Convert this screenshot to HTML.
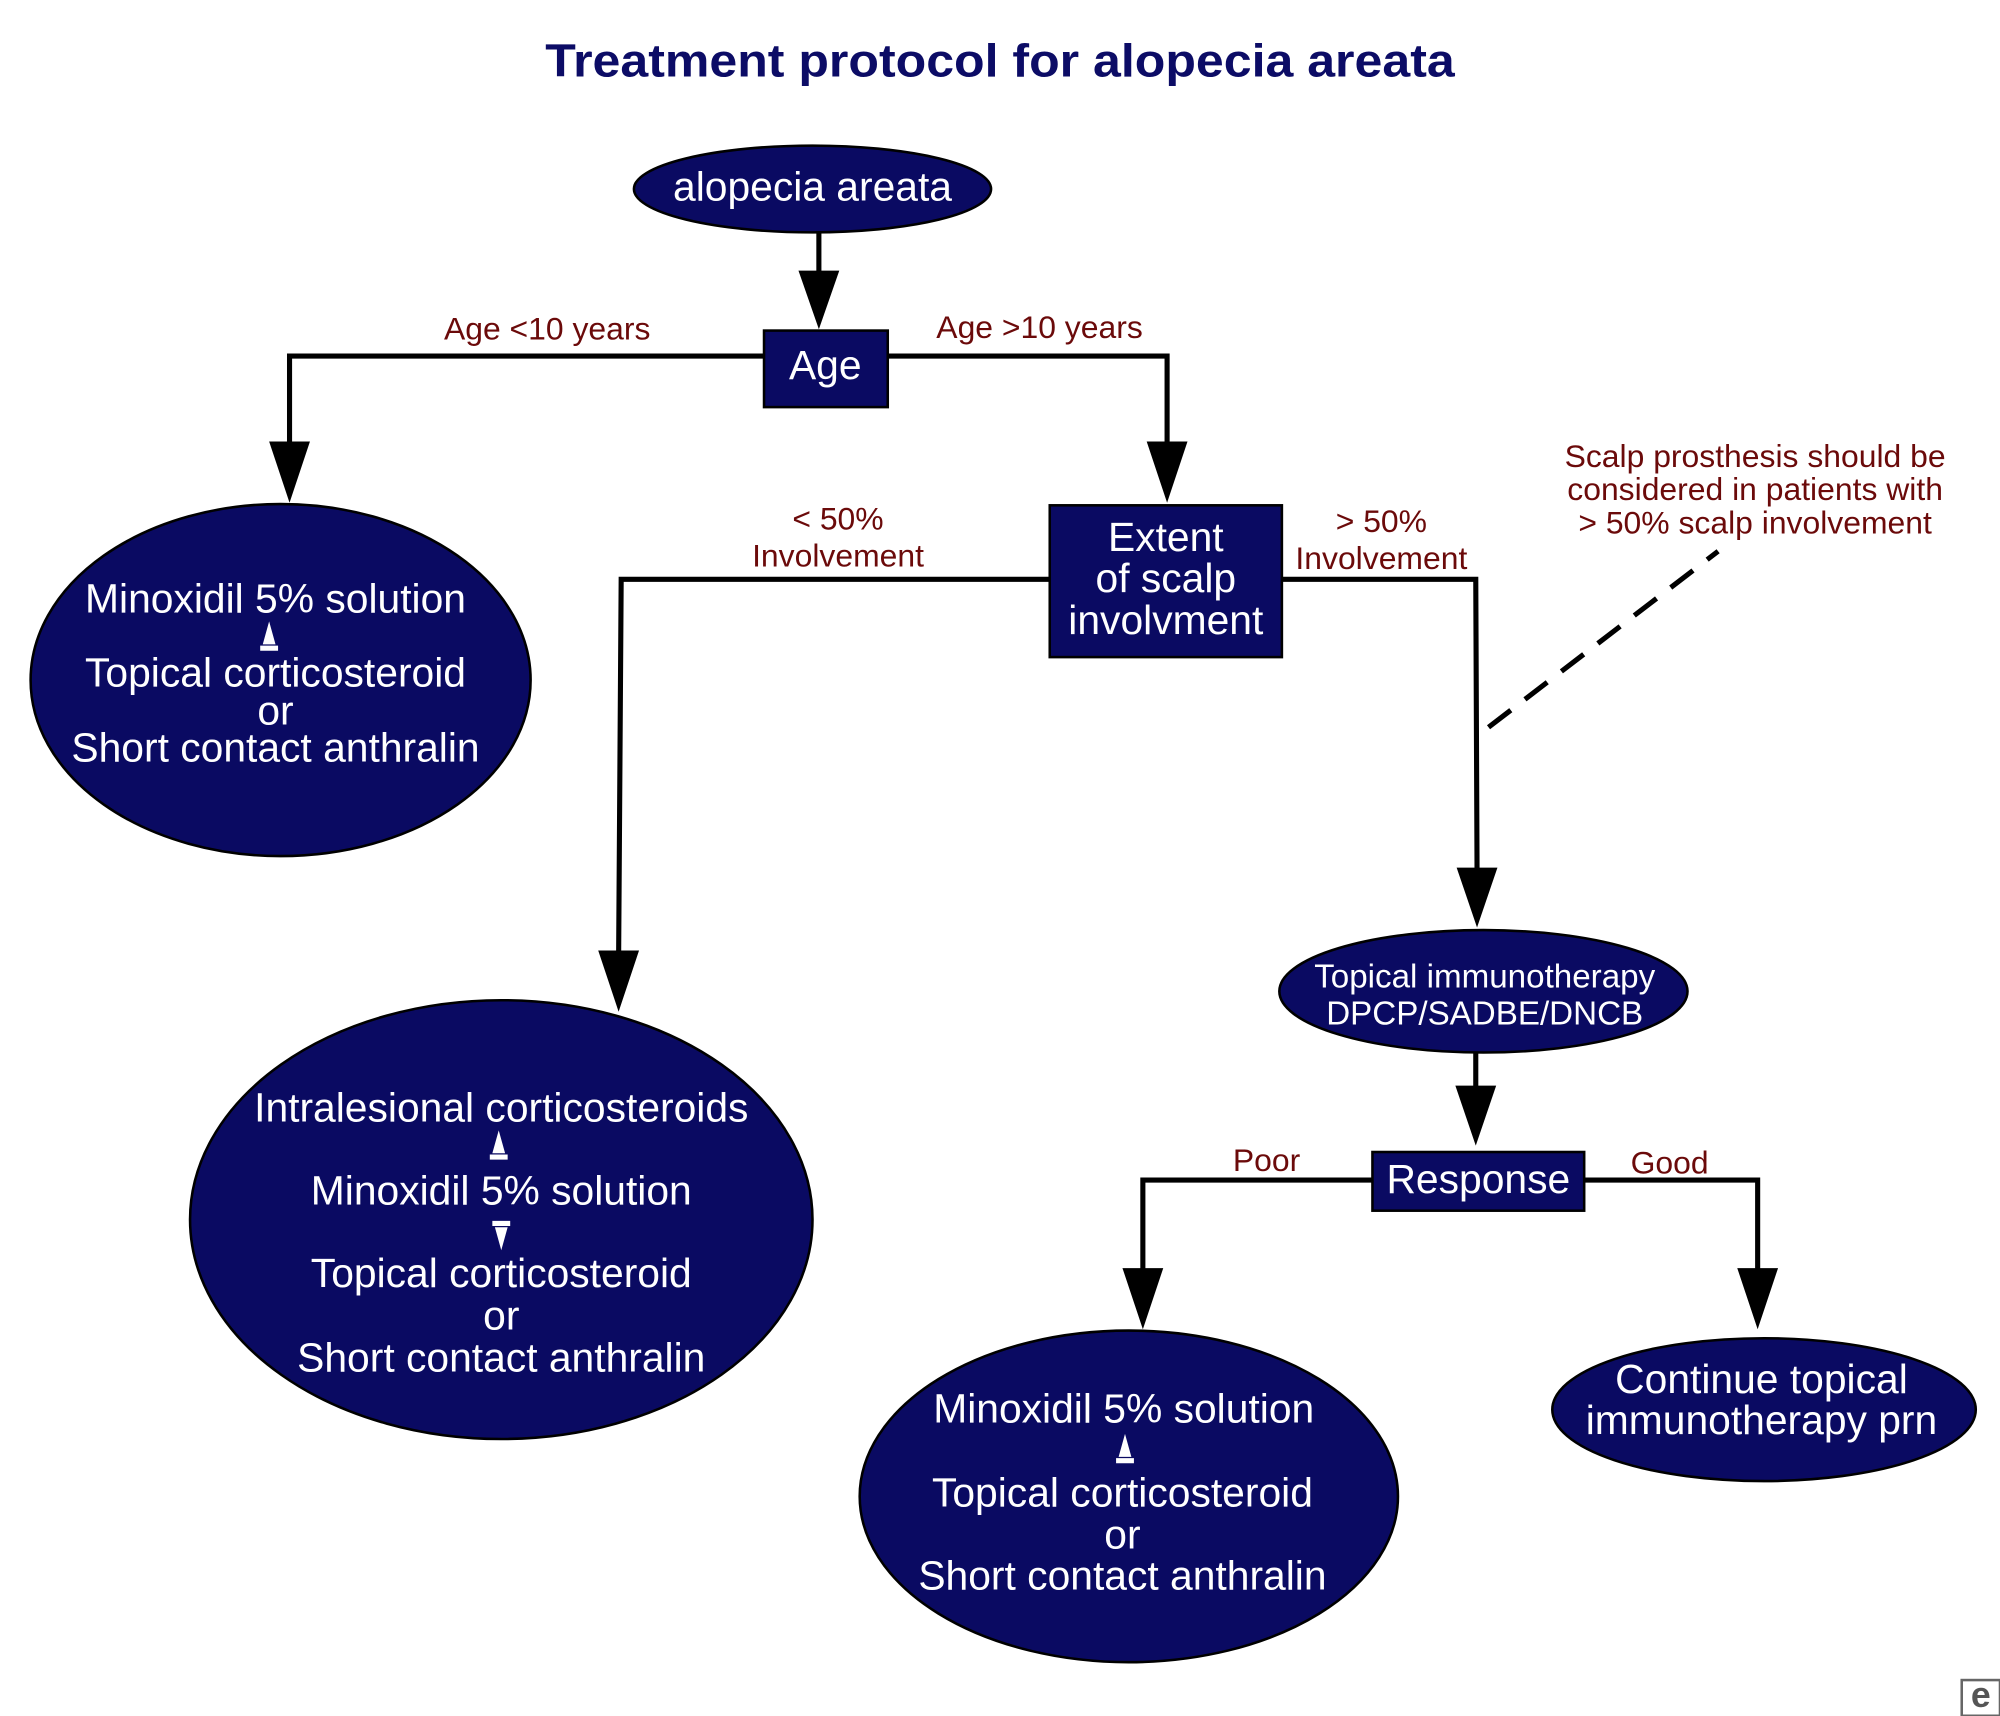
<!DOCTYPE html>
<html><head><meta charset="utf-8"><style>
html,body{margin:0;padding:0;background:#fff;}
svg{display:block;}
text{font-family:"Liberation Sans",Arial,sans-serif;}
.w{fill:#fff;font-size:32px;text-anchor:middle;}
.l{fill:#6b0a0a;font-size:25px;text-anchor:middle;}
</style></head><body>
<svg width="2000" height="1716" viewBox="0 0 1568 1345" xmlns="http://www.w3.org/2000/svg">
<text x="784" y="60" text-anchor="middle" font-size="36" font-weight="bold" fill="#0c0c66" textLength="713" lengthAdjust="spacingAndGlyphs">Treatment protocol for alopecia areata</text>
<g stroke="#000" stroke-width="4" fill="none">
<path d="M642 182V220"/>
<path d="M599 279H227V350"/>
<path d="M696 279H915V350"/>
<path d="M823 454H487L485 750"/>
<path d="M1005 454H1157L1158 682"/>
<path d="M1157 825V853"/>
<path d="M1076 925H896V998"/>
<path d="M1242 925H1378V998"/>
<path d="M1167 570L1347 432" stroke-dasharray="22,14"/>
</g>
<g fill="#000">
<path d="M626 212H658L642 258Z"/>
<path d="M211 346H243L227 394Z"/>
<path d="M899 346H931L915 394Z"/>
<path d="M469 745H501L485 793Z"/>
<path d="M1142 680H1174L1158 727Z"/>
<path d="M1141 851H1173L1157 898Z"/>
<path d="M880 994H912L896 1042Z"/>
<path d="M1362 994H1394L1378 1042Z"/>
</g>
<g fill="#0a0a62" stroke="#000" stroke-width="2">
<ellipse cx="637" cy="148" rx="140" ry="34"/>
<rect x="599" y="259" width="97" height="60"/>
<ellipse cx="220" cy="533" rx="196" ry="138"/>
<rect x="823" y="396" width="182" height="119"/>
<ellipse cx="393" cy="956" rx="244" ry="172"/>
<ellipse cx="1163" cy="777" rx="160" ry="48"/>
<rect x="1076" y="903" width="166" height="46"/>
<ellipse cx="885" cy="1173" rx="211" ry="130"/>
<ellipse cx="1383" cy="1105" rx="166" ry="56"/>
</g>
<text class="w" x="637" y="157">alopecia areata</text>
<text class="w" x="647" y="297">Age</text>
<text class="w" x="216" y="480">Minoxidil 5% solution</text>
<text class="w" x="216" y="538">Topical corticosteroid</text>
<text class="w" x="216" y="568">or</text>
<text class="w" x="216" y="597">Short contact anthralin</text>
<path d="M211 487L206 505H216Z M204 506H218V510H204Z" fill="#fff"/>
<text class="w" x="914" y="432">Extent</text>
<text class="w" x="914" y="464">of scalp</text>
<text class="w" x="914" y="497">involvment</text>
<text class="w" x="393" y="879">Intralesional corticosteroids</text>
<path d="M391 886L386 904H396Z M384 905H398V909H384Z" fill="#fff"/>
<text class="w" x="393" y="944">Minoxidil 5% solution</text>
<path d="M386 957H400V961H386Z M388 962L398 962L393 980Z" fill="#fff"/>
<text class="w" x="393" y="1009">Topical corticosteroid</text>
<text class="w" x="393" y="1042">or</text>
<text class="w" x="393" y="1075">Short contact anthralin</text>
<text class="w" x="1164" y="774" style="font-size:26px">Topical immunotherapy</text>
<text class="w" x="1164" y="803" style="font-size:26px">DPCP/SADBE/DNCB</text>
<text class="w" x="1159" y="935">Response</text>
<text class="w" x="881" y="1115">Minoxidil 5% solution</text>
<path d="M882 1124L877 1142H887Z M875 1143H889V1147H875Z" fill="#fff"/>
<text class="w" x="880" y="1181">Topical corticosteroid</text>
<text class="w" x="880" y="1214">or</text>
<text class="w" x="880" y="1246">Short contact anthralin</text>
<text class="w" x="1381" y="1092">Continue topical</text>
<text class="w" x="1381" y="1124">immunotherapy prn</text>
<text class="l" x="429" y="266">Age &lt;10 years</text>
<text class="l" x="815" y="265">Age &gt;10 years</text>
<text class="l" x="657" y="415">&lt; 50%</text>
<text class="l" x="657" y="444">Involvement</text>
<text class="l" x="1083" y="417">&gt; 50%</text>
<text class="l" x="1083" y="446">Involvement</text>
<text class="l" x="1376" y="366">Scalp prosthesis should be</text>
<text class="l" x="1376" y="392">considered in patients with</text>
<text class="l" x="1376" y="418">&gt; 50% scalp involvement</text>
<text class="l" x="993" y="918">Poor</text>
<text class="l" x="1309" y="920">Good</text>
<rect x="1538" y="1317" width="30" height="28" fill="#fff" stroke="#666" stroke-width="2"/>
<text x="1553" y="1338" text-anchor="middle" font-size="28" font-weight="bold" fill="#555">e</text>
</svg>
</body></html>
